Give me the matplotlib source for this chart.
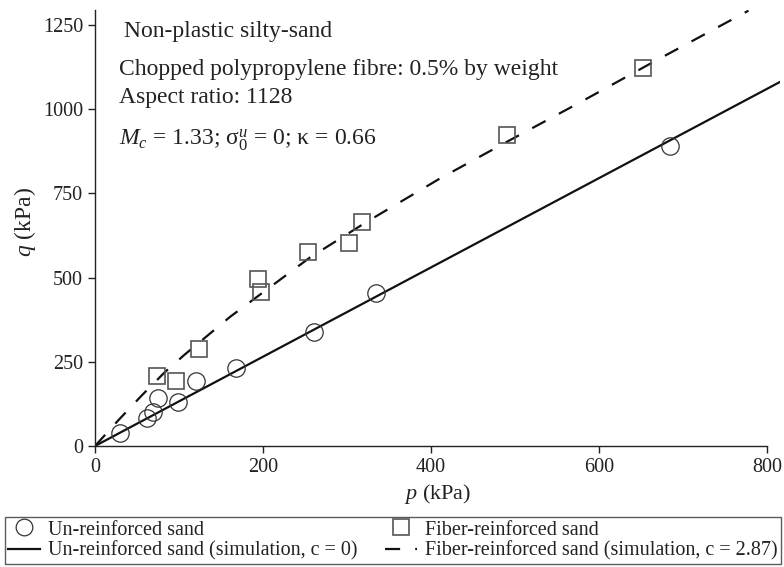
import matplotlib
matplotlib.use("Agg")
import matplotlib.pyplot as plt
from matplotlib.lines import Line2D

plt.rcParams['font.family'] = ['Liberation Serif', 'DejaVu Serif']
plt.rcParams['mathtext.fontset'] = 'custom'
plt.rcParams['mathtext.rm'] = 'Liberation Serif'
plt.rcParams['mathtext.it'] = 'Liberation Serif:italic'

# Un-reinforced sand (test data)
unr_p = [30, 62, 69, 75, 99, 120, 168, 261, 334, 684]
unr_q = [38, 82, 102, 143, 132, 193, 231, 339, 453, 892]

# Fiber-reinforced sand (test data)
fib_p = [74, 96, 124, 194, 198, 253, 302, 318, 490, 653]
fib_q = [208, 193, 288, 496, 456, 575, 602, 665, 925, 1123]

# Simulations
sim_unr_p = [0, 816]
sim_unr_q = [0, 1082]
sim_fib_p = [0, 28, 56, 83, 107, 161, 256, 323, 411, 490, 577, 665, 778]
sim_fib_q = [0, 77, 151, 219, 272, 384, 560, 665, 795, 903, 1020, 1141, 1293]

W, H = 784, 567
fig = plt.figure(figsize=(W / 100, H / 100), dpi=100)
ax_l, ax_r, ax_t, ax_b = 95, 780.4, 10, 446
ax = fig.add_axes([ax_l / W, 1 - ax_b / H, (ax_r - ax_l) / W, (ax_b - ax_t) / H])

ax.plot(sim_unr_p, sim_unr_q, color='#111111', lw=1.6, zorder=2)
ax.plot(sim_fib_p, sim_fib_q, color='#111111', lw=1.6, linestyle=(0, (6.8, 6.8)), zorder=2)
ax.plot(unr_p, unr_q, linestyle='none', marker='o', ms=12.5, mfc='none',
        mec='#333333', mew=0.9, zorder=3)
ax.plot(fib_p, fib_q, linestyle='none', marker='s', ms=12, mfc='none',
        mec='#555555', mew=1.2, zorder=3)

ax.set_xlim(0, 816)
ax.set_ylim(0, 1295)
ax.spines['top'].set_visible(False)
ax.spines['right'].set_visible(False)
ax.spines['bottom'].set_bounds(0, 800)
for s in ('left', 'bottom'):
    ax.spines[s].set_linewidth(1.0)
    ax.spines[s].set_color('#222222')
ax.set_xticks([0, 200, 400, 600, 800])
ax.set_yticks([0, 250, 500, 750, 1000, 1250])
ax.tick_params(direction='out', length=5, width=1.0, labelsize=14.5, colors='#222222')
ax.set_xlabel(r'$p$ (kPa)', fontsize=16, color='#222222', labelpad=4)
ax.set_ylabel(r'$q$ (kPa)', fontsize=17, color='#222222', labelpad=2)
ax.yaxis.set_label_coords(-0.083, 0.514)

# annotations (figure pixel positions)
def ftext(x, y, s, **kw):
    fig.text(x / W, 1 - y / H, s, va='center', ha='left', color='#222222', **kw)

ftext(124, 32, 'Non-plastic silty-sand', fontsize=17)
ftext(119, 70, 'Chopped polypropylene fibre: 0.5% by weight', fontsize=17)
ftext(119, 98, 'Aspect ratio: 1128', fontsize=17)
ftext(119, 140, r'$M_c$ = 1.33; $\mathrm{σ}_0^u$ = 0; $\mathrm{κ}$ = 0.66', fontsize=17)

handles = [
    Line2D([], [], linestyle='none', marker='o', ms=12, mfc='none', mec='#333333', mew=0.9),
    Line2D([], [], color='#111111', lw=1.6),
    Line2D([], [], linestyle='none', marker='s', ms=12, mfc='none', mec='#555555', mew=1.2),
    Line2D([], [], color='#111111', lw=1.6, linestyle=(0, (6.8, 6.8))),
]
labels = ['Un-reinforced sand', 'Un-reinforced sand (simulation, c = 0)',
          'Fiber-reinforced sand', 'Fiber-reinforced sand (simulation, c = 2.87)']
leg = fig.legend(handles, labels, loc='lower left', ncol=2, mode='expand',
                 bbox_to_anchor=(5 / W, 3 / H, 776 / W, 51 / H), borderaxespad=0,
                 borderpad=0.15, labelspacing=0.1, handlelength=1.6, handletextpad=0.4,
                 columnspacing=0.5, fontsize=14.5, fancybox=False, frameon=True)
leg.get_frame().set_edgecolor('#333333')
leg.get_frame().set_linewidth(1.0)
for t in leg.get_texts():
    t.set_color('#222222')

fig.savefig('out.png', dpi=100)
